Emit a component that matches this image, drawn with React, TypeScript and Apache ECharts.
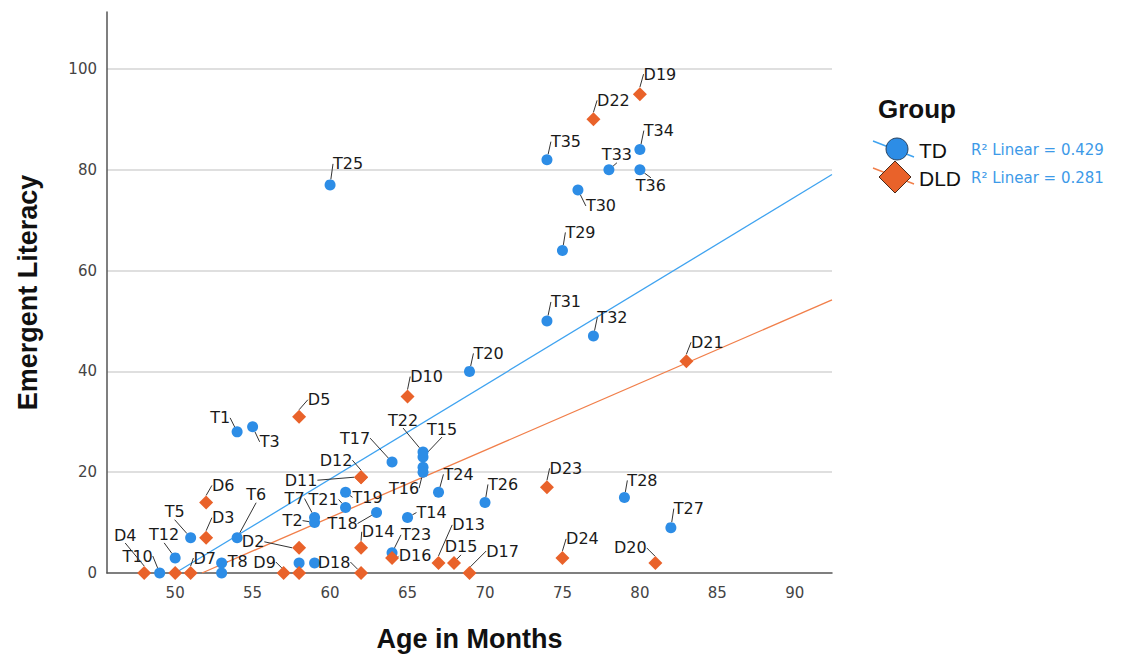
import React, { useEffect, useRef } from "react";
import * as echarts from "echarts";

// ---- data ----
const tdNames = ["T1","T2","T3","T4","T5","T6","T7","T8","T9","T10","T11","T12","T13","T14","T15","T16","T17","T18","T19","T20","T21","T22","T23","T24","T25","T26","T27","T28","T29","T30","T31","T32","T33","T34","T35","T36"];
const tdAge = [54,59,55,53,51,54,59,53,58,49,59,50,66,65,66,66,64,63,61,69,61,66,64,67,60,70,82,79,75,76,74,77,78,80,74,80];
const tdLiteracy = [28,10,29,0,7,7,11,2,2,0,2,3,21,11,23,20,22,12,16,40,13,24,4,16,77,14,9,15,64,76,50,47,80,84,82,80];

const dldNames = ["D1","D2","D3","D4","D5","D6","D7","D8","D9","D10","D11","D12","D13","D14","D15","D16","D17","D18","D19","D20","D21","D22","D23","D24"];
const dldAge = [50,58,52,48,58,52,51,58,57,65,62,62,67,62,68,64,69,62,80,81,83,77,74,75];
const dldLiteracy = [0,5,7,0,31,14,0,0,0,35,19,19,2,5,2,3,0,0,95,2,42,90,17,3];

const hiddenLabels = ["T4","T9","T11","T13","D1","D8"];
const groupNames = ["TD", "DLD"];
const r2Labels = ["R\u00B2 Linear = 0.429", "R\u00B2 Linear = 0.281"];

// label offsets (px, label centre relative to point) - styling only
const tdLabelOffset: Record<string, [number, number]> = {
  T1: [-17, -14], T2: [-22, -2], T3: [17, 15], T5: [-16, -26], T6: [19, -43], T7: [-20, -19],
  T8: [16, -1], T10: [-22, -17], T12: [-11, -23], T14: [24, -5], T15: [19, -28], T16: [-19, 16],
  T17: [-37, -24], T18: [-34, 11], T19: [22, 5], T20: [19, -18], T21: [-22, -8], T22: [-20, -32],
  T23: [24, -18], T24: [20, -18], T25: [18, -21], T26: [18, -18], T27: [18, -19], T28: [18, -17],
  T29: [18, -18], T30: [23, 16], T31: [19, -19], T32: [19, -19], T33: [8, -15], T34: [19, -19],
  T35: [19, -18], T36: [11, 16],
};
const dldLabelOffset: Record<string, [number, number]> = {
  D2: [-46, -6], D3: [17, -20], D4: [-19, -38], D5: [20, -17], D6: [17, -17], D7: [14, -15],
  D9: [-19, -11], D10: [19, -20], D11: [-60, 3], D12: [-25, -17], D13: [30, -38], D14: [17, -16],
  D15: [7, -16], D16: [23, -2], D17: [33, -22], D18: [-27, -11], D19: [20, -20], D20: [-25, -15],
  D21: [21, -19], D22: [20, -19], D23: [19, -19], D24: [20, -19],
};

const X_MIN = 45.6;
const X_MAX = 92.4;
const Y_MAX = 111.3;

const BLUE = "#2d8de6";
const ORANGE = "#e9622a";
const BLUE_LINE = "#3fa3f0";
const ORANGE_LINE = "#f17f4a";

function linearFit(xs: number[], ys: number[]) {
  const n = xs.length;
  const mx = xs.reduce((a, b) => a + b, 0) / n;
  const my = ys.reduce((a, b) => a + b, 0) / n;
  let sxy = 0, sxx = 0;
  for (let i = 0; i < n; i++) {
    sxy += (xs[i] - mx) * (ys[i] - my);
    sxx += (xs[i] - mx) * (xs[i] - mx);
  }
  const m = sxy / sxx;
  const b = my - m * mx;
  return { m, b };
}

function fitLine(xs: number[], ys: number[]) {
  const { m, b } = linearFit(xs, ys);
  let x0 = Math.max(X_MIN, -b / m);
  let x1 = X_MAX;
  if (m * x1 + b > Y_MAX) x1 = (Y_MAX - b) / m;
  return [[x0, m * x0 + b], [x1, m * x1 + b]];
}

function points(names: string[], xs: number[], ys: number[]) {
  return names.map((name, i) => {
    const hidden = hiddenLabels.includes(name);
    const item: any = { name, value: [xs[i], ys[i]] };
    if (hidden) {
      item.label = { show: false };
      item.labelLine = { show: false };
    }
    return item;
  });
}

export default function App() {
  const ref = useRef<HTMLDivElement>(null);

  useEffect(() => {
    if (!ref.current) return;
    const chart = echarts.init(ref.current, undefined, { renderer: "svg" });

    const labelCommon = {
      show: true,
      position: "inside",
      formatter: "{b}",
      fontSize: 16,
      color: "#1a1a1a",
      fontFamily: "DejaVu Sans",
    };

    const option: any = {
      animation: false,
      backgroundColor: "#ffffff",
      textStyle: { fontFamily: "DejaVu Sans" },
      grid: { left: 107, top: 12, width: 725, height: 561, containLabel: false },
      xAxis: {
        type: "value",
        min: X_MIN,
        max: X_MAX,
        splitNumber: 9,
        axisLine: { show: true, onZero: false, lineStyle: { color: "#555555", width: 1.5 } },
        axisTick: { show: false },
        splitLine: { show: false },
        axisLabel: {
          showMinLabel: false,
          showMaxLabel: false,
          formatter: (v: number) => (Math.abs(v % 5) < 1e-6 ? String(v) : ""),
          margin: 12,
          fontSize: 15,
          color: "#444444",
          fontFamily: "DejaVu Sans",
        },
        name: "Age in Months",
        nameLocation: "middle",
        nameGap: 52,
        nameTextStyle: { fontSize: 27, fontWeight: "bold", fontFamily: "Liberation Sans", color: "#111111" },
      },
      yAxis: {
        type: "value",
        min: 0,
        max: Y_MAX,
        interval: 20,
        axisLine: { show: true, onZero: false, lineStyle: { color: "#555555", width: 1.5 } },
        axisTick: { show: false },
        splitLine: { show: true, showMinLine: false, showMaxLine: false, lineStyle: { color: "#d4d4d4", width: 1.5 } },
        axisLabel: {
          showMaxLabel: false,
          margin: 10,
          fontSize: 15,
          color: "#444444",
          fontFamily: "DejaVu Sans",
        },
        name: "Emergent Literacy",
        nameLocation: "middle",
        nameGap: 66,
        nameTextStyle: { fontSize: 27, fontWeight: "bold", fontFamily: "Liberation Sans", color: "#111111" },
      },
      series: [
        {
          type: "line",
          data: fitLine(tdAge, tdLiteracy),
          showSymbol: false,
          symbol: "none",
          silent: true,
          z: 1,
          lineStyle: { color: BLUE_LINE, width: 1.3 },
        },
        {
          type: "line",
          data: fitLine(dldAge, dldLiteracy),
          showSymbol: false,
          symbol: "none",
          silent: true,
          z: 1,
          lineStyle: { color: ORANGE_LINE, width: 1.3 },
        },
        {
          type: "scatter",
          name: groupNames[0],
          data: points(tdNames, tdAge, tdLiteracy),
          symbol: "circle",
          symbolSize: 11,
          z: 3,
          itemStyle: { color: BLUE, opacity: 1 },
          label: labelCommon,
          labelLine: { show: true, lineStyle: { color: "#333333", width: 1 } },
          labelLayout: (p: any) => {
            const o = tdLabelOffset[tdNames[p.dataIndex]] || [0, 0];
            return { dx: o[0], dy: o[1] };
          },
        },
        {
          type: "scatter",
          name: groupNames[1],
          data: points(dldNames, dldAge, dldLiteracy),
          symbol: "diamond",
          symbolSize: 14,
          z: 4,
          itemStyle: { color: ORANGE, opacity: 1 },
          label: labelCommon,
          labelLine: { show: true, lineStyle: { color: "#333333", width: 1 } },
          labelLayout: (p: any) => {
            const o = dldLabelOffset[dldNames[p.dataIndex]] || [0, 0];
            return { dx: o[0], dy: o[1] };
          },
        },
      ],
      graphic: [
        {
          type: "text",
          left: 878,
          top: 96,
          style: { text: "Group", font: "bold 26px 'Liberation Sans'", fill: "#111111" },
        },
        { type: "line", shape: { x1: 873, y1: 141, x2: 914, y2: 157 }, style: { stroke: BLUE_LINE, lineWidth: 1.5 } },
        { type: "circle", shape: { cx: 897, cy: 149, r: 11 }, style: { fill: BLUE, stroke: "#27415e", lineWidth: 1 } },
        {
          type: "text", x: 919, y: 150,
          style: { text: groupNames[0], font: "21px 'Liberation Sans'", fill: "#111111", verticalAlign: "middle" },
        },
        {
          type: "text", x: 971, y: 150,
          style: { text: r2Labels[0], font: "15px 'DejaVu Sans'", fill: "#3d9ae8", verticalAlign: "middle" },
        },
        { type: "line", shape: { x1: 873, y1: 168, x2: 914, y2: 184 }, style: { stroke: ORANGE_LINE, lineWidth: 1.5 } },
        {
          type: "polygon",
          shape: { points: [[895, 161], [911, 177], [895, 193], [879, 177]] },
          style: { fill: ORANGE, stroke: "#4a2a1a", lineWidth: 1 },
        },
        {
          type: "text", x: 919, y: 178,
          style: { text: groupNames[1], font: "21px 'Liberation Sans'", fill: "#111111", verticalAlign: "middle" },
        },
        {
          type: "text", x: 971, y: 178,
          style: { text: r2Labels[1], font: "15px 'DejaVu Sans'", fill: "#3d9ae8", verticalAlign: "middle" },
        },
      ],
    };

    chart.setOption(option);
    return () => chart.dispose();
  }, []);

  return (
    <div
      ref={ref}
      style={{ position: "absolute", left: 0, top: 0, width: 1128, height: 660, background: "#ffffff" }}
    />
  );
}
